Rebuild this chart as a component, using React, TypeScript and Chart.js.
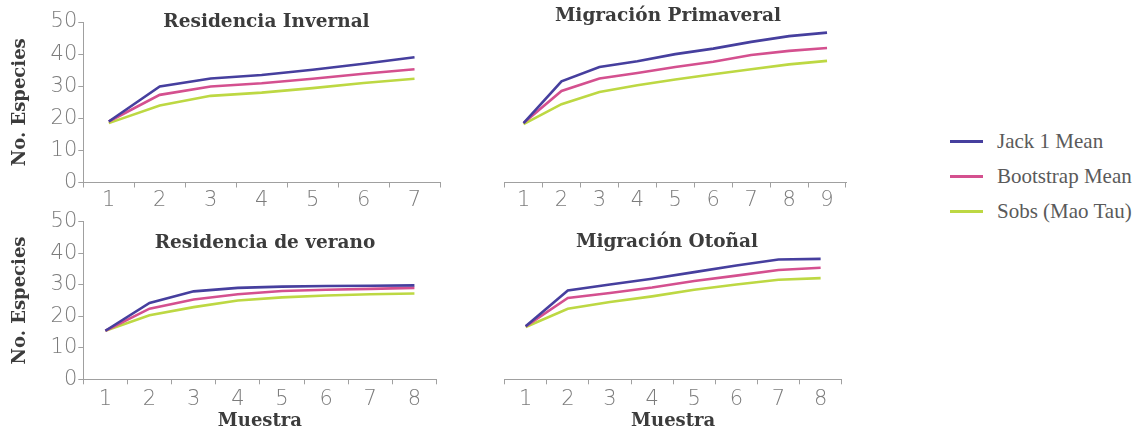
import React, { useEffect, useRef } from "react";
import { Chart, registerables } from "chart.js";

Chart.register(...registerables);

// ---------- data ----------
const seriesNames = ["Jack 1 Mean", "Bootstrap Mean", "Sobs (Mao Tau)"];
const seriesColors = ["#463f9e", "#d4508f", "#bdd843"];

const yTicks = [0, 10, 20, 30, 40, 50];

const invernalLabels = ["1", "2", "3", "4", "5", "6", "7"];
const invernalJack = [19, 29.9, 32.4, 33.5, 35.1, 37, 39];
const invernalBoot = [19, 27.3, 29.9, 30.9, 32.3, 33.9, 35.3];
const invernalSobs = [18.5, 24, 27, 28, 29.4, 31, 32.3];

const primaveralLabels = ["1", "2", "3", "4", "5", "6", "7", "8", "9"];
const primaveralJack = [18.5, 31.5, 36, 37.8, 40, 41.7, 43.8, 45.6, 46.7];
const primaveralBoot = [18.5, 28.5, 32.4, 34.1, 36, 37.6, 39.7, 41, 41.9];
const primaveralSobs = [18.2, 24.4, 28.2, 30.3, 32.1, 33.7, 35.3, 36.8, 37.9];

const veranoLabels = ["1", "2", "3", "4", "5", "6", "7", "8"];
const veranoJack = [15.4, 24.2, 27.9, 29.0, 29.4, 29.6, 29.7, 29.8];
const veranoBoot = [15.4, 22.4, 25.3, 27.0, 28.0, 28.4, 28.7, 29.0];
const veranoSobs = [15.4, 20.3, 22.9, 25.0, 26.0, 26.6, 27.0, 27.2];

const otonalLabels = ["1", "2", "3", "4", "5", "6", "7", "8"];
const otonalJack = [16.8, 28.2, 30.1, 31.9, 34, 36.1, 38, 38.2];
const otonalBoot = [16.8, 25.8, 27.4, 29.1, 31.2, 32.9, 34.7, 35.4];
const otonalSobs = [16.6, 22.4, 24.5, 26.3, 28.4, 30.1, 31.6, 32.1];

// ---------- styles ----------
const AXIS_COLOR = "#a0a0a0";
const TICK_COLOR = "#7c7c7c";
const TITLE_COLOR = "#3c3c3c";
const TICK_FONT = { family: "'DejaVu Sans', sans-serif", size: 21, weight: 200 as any };
const TITLE_FONT_FAMILY = "'DejaVu Serif', serif";

type Panel = {
  title: string;
  labels: string[];
  jack: number[];
  boot: number[];
  sobs: number[];
  box: { left: number; top: number; w: number; h: number };
  area: { L: number; R: number; T: number; B: number };
  showY: boolean;
  showXTitle: boolean;
  titleX: number;
  titleBaseline: number;
  tickPad: number;
};

const panels: Panel[] = [
  {
    title: "Residencia Invernal",
    labels: invernalLabels,
    jack: invernalJack,
    boot: invernalBoot,
    sobs: invernalSobs,
    box: { left: 0, top: 0, w: 460, h: 210 },
    area: { L: 83.3, R: 440, T: 22, B: 182.5 },
    showY: true,
    showXTitle: false,
    titleX: 266.5,
    titleBaseline: 26.5,
    tickPad: 0.5,
  },
  {
    title: "Migración Primaveral",
    labels: primaveralLabels,
    jack: primaveralJack,
    boot: primaveralBoot,
    sobs: primaveralSobs,
    box: { left: 462, top: 0, w: 400, h: 210 },
    area: { L: 483.3, R: 846, T: 22, B: 182.5 },
    showY: false,
    showXTitle: false,
    titleX: 668,
    titleBaseline: 21,
    tickPad: 0.5,
  },
  {
    title: "Residencia de verano",
    labels: veranoLabels,
    jack: veranoJack,
    boot: veranoBoot,
    sobs: veranoSobs,
    box: { left: 0, top: 205, w: 460, h: 229 },
    area: { L: 83.3, R: 436.5, T: 221.7, B: 379.3 },
    showY: true,
    showXTitle: true,
    titleX: 265,
    titleBaseline: 247.5,
    tickPad: 3,
  },
  {
    title: "Migración Otoñal",
    labels: otonalLabels,
    jack: otonalJack,
    boot: otonalBoot,
    sobs: otonalSobs,
    box: { left: 462, top: 205, w: 400, h: 229 },
    area: { L: 483.3, R: 841.7, T: 221.7, B: 379.3 },
    showY: false,
    showXTitle: true,
    titleX: 667,
    titleBaseline: 247,
    tickPad: 3,
  },
];

function PanelChart({ p }: { p: Panel }) {
  const ref = useRef<HTMLCanvasElement | null>(null);
  useEffect(() => {
    if (!ref.current) return;
    const { box, area } = p;
    const titlePlugin = {
      id: "panelTitle",
      afterDraw(chart: any) {
        const ctx = chart.ctx;
        ctx.save();
        ctx.font = `bold 18.5px ${TITLE_FONT_FAMILY}`;
        ctx.fillStyle = TITLE_COLOR;
        ctx.textAlign = "center";
        ctx.textBaseline = "alphabetic";
        ctx.fillText(p.title, p.titleX - box.left, p.titleBaseline - box.top);
        ctx.restore();
      },
    };
    const values = [p.jack, p.boot, p.sobs];
    const chart = new Chart(ref.current, {
      type: "line",
      data: {
        labels: p.labels,
        datasets: values.map((v, i) => ({
          label: seriesNames[i],
          data: v,
          borderColor: seriesColors[i],
          backgroundColor: seriesColors[i],
          borderWidth: 2.6,
          pointRadius: 0,
          tension: 0,
          fill: false,
        })),
      },
      options: {
        animation: false,
        responsive: false,
        maintainAspectRatio: false,
        layout: {
          padding: {
            left: p.showY ? 0 : area.L - box.left,
            right: box.left + box.w - area.R,
            top: area.T - box.top,
            bottom: 0,
          },
        },
        plugins: {
          legend: { display: false },
          tooltip: { enabled: false },
          title: { display: false },
        },
        scales: {
          x: {
            type: "category",
            offset: true,
            grid: {
              display: true,
              drawOnChartArea: false,
              drawTicks: true,
              tickLength: 5,
              color: AXIS_COLOR,
              offset: true,
            },
            border: { display: true, color: AXIS_COLOR, width: 1 },
            ticks: {
              color: TICK_COLOR,
              font: TICK_FONT,
              padding: p.tickPad,
              autoSkip: false,
              maxRotation: 0,
            },
            title: {
              display: p.showXTitle,
              text: "Muestra",
              color: TITLE_COLOR,
              font: { family: TITLE_FONT_FAMILY, size: 18, weight: "bold" },
              padding: { top: 0, bottom: 2.2 },
            },
            afterFit: (s: any) => {
              s.height = box.top + box.h - area.B;
            },
          },
          y: {
            display: p.showY,
            min: 0,
            max: 50,
            afterBuildTicks: (s: any) => {
              s.ticks = yTicks.map((v) => ({ value: v }));
            },
            grid: {
              display: true,
              drawOnChartArea: false,
              drawTicks: true,
              tickLength: 5,
              color: AXIS_COLOR,
            },
            border: { display: true, color: AXIS_COLOR, width: 1 },
            ticks: {
              color: TICK_COLOR,
              font: TICK_FONT,
              padding: 1,
            },
            title: {
              display: true,
              text: "No. Especies",
              color: TITLE_COLOR,
              font: { family: TITLE_FONT_FAMILY, size: 18, weight: "bold" },
              padding: { top: 9.5, bottom: 0 },
            },
            afterFit: (s: any) => {
              s.width = area.L - box.left;
            },
          },
        },
      },
      plugins: [titlePlugin],
    });
    return () => chart.destroy();
  }, [p]);
  return (
    <canvas
      ref={ref}
      width={p.box.w}
      height={p.box.h}
      style={{
        position: "absolute",
        left: p.box.left,
        top: p.box.top,
        width: p.box.w,
        height: p.box.h,
      }}
    />
  );
}

const legendRows = [141, 176, 211];

export default function App() {
  return (
    <div
      style={{
        position: "absolute",
        left: 0,
        top: 0,
        width: 1135,
        height: 434,
        background: "#ffffff",
        overflow: "hidden",
      }}
    >
      {panels.map((p, i) => (
        <PanelChart key={i} p={p} />
      ))}
      {seriesNames.map((name, i) => (
        <div key={name}>
          <div
            style={{
              position: "absolute",
              left: 950,
              top: legendRows[i] - 1.5,
              width: 33,
              height: 3,
              background: seriesColors[i],
            }}
          />
          <div
            style={{
              position: "absolute",
              left: 997,
              top: legendRows[i] - 13,
              height: 26,
              lineHeight: "26px",
              fontFamily: "'Liberation Serif', serif",
              fontSize: 21,
              color: "#5a5a5a",
              whiteSpace: "nowrap",
            }}
          >
            {name}
          </div>
        </div>
      ))}
    </div>
  );
}
